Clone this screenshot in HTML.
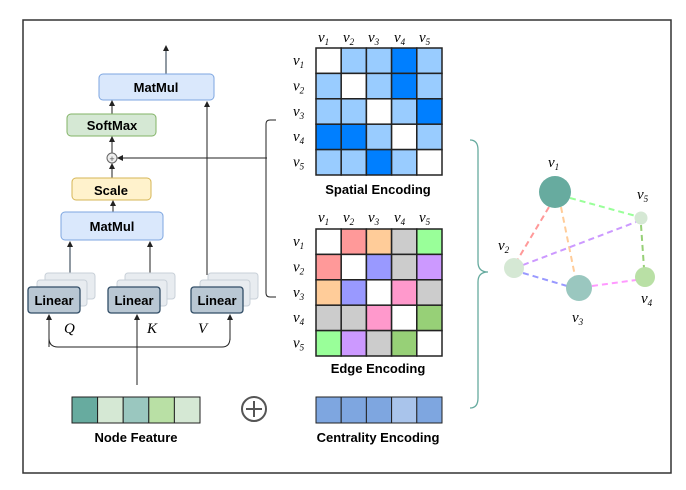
<!DOCTYPE html>
<html><head><meta charset="utf-8"><style>
body{margin:0;background:#fff}
svg text{font-family:"Liberation Sans",sans-serif}
.b{font-weight:bold;font-size:13px;text-anchor:middle}
.m{font-family:"Liberation Serif",serif!important;font-style:italic;font-size:15px}
</style></head><body>
<svg width="686" height="485" viewBox="0 0 686 485" xmlns="http://www.w3.org/2000/svg">
<defs><marker id="a" markerWidth="6" markerHeight="6" refX="5" refY="3" orient="auto"><path d="M0,0L6,3L0,6z" fill="#222"/></marker></defs>
<rect x="23" y="20" width="648" height="453" fill="none" stroke="#333" stroke-width="1.5"/>
<!-- left -->
<line x1="166" y1="74" x2="166" y2="46" stroke="#234" marker-end="url(#a)"/>
<rect x="99" y="74" width="115" height="26" rx="4" fill="#dae8fc" stroke="#7ea6e0"/><text class="b" x="156" y="92">MatMul</text>
<line x1="112" y1="114" x2="112" y2="101" stroke="#222" marker-end="url(#a)"/>
<rect x="67" y="114" width="89" height="22" rx="4" fill="#d5e8d4" stroke="#82b366"/><text class="b" x="112" y="130">SoftMax</text>
<line x1="112" y1="153" x2="112" y2="137" stroke="#222" marker-end="url(#a)"/>
<circle cx="112" cy="158" r="5" fill="#eee" stroke="#666"/><text x="112" y="162" font-size="9" text-anchor="middle" fill="#555">+</text>
<line x1="112" y1="178" x2="112" y2="164" stroke="#222" marker-end="url(#a)"/>
<rect x="72" y="178" width="79" height="22" rx="4" fill="#fff2cc" stroke="#d6b656"/><text class="b" x="111" y="195">Scale</text>
<line x1="113" y1="212" x2="113" y2="201" stroke="#222" marker-end="url(#a)"/>
<rect x="61" y="212" width="102" height="28" rx="4" fill="#dae8fc" stroke="#7ea6e0"/><text class="b" x="112" y="231">MatMul</text>
<line x1="70" y1="275" x2="70" y2="242" stroke="#234" marker-end="url(#a)"/>
<line x1="150" y1="275" x2="150" y2="242" stroke="#222" marker-end="url(#a)"/>
<line x1="207" y1="275" x2="207" y2="102" stroke="#222" marker-end="url(#a)"/>
<line x1="267" y1="158" x2="118" y2="158" stroke="#222" marker-end="url(#a)"/>
<path d="M276,120 H270 Q266,120 266,124 V293 Q266,297 270,297 H276" fill="none" stroke="#222"/>
<g fill="#e8ecf0" stroke="#c8d0d8">
<rect x="45" y="273" width="50" height="26" rx="3"/><rect x="37" y="280" width="50" height="26" rx="3"/>
<rect x="125" y="273" width="50" height="26" rx="3"/><rect x="117" y="280" width="50" height="26" rx="3"/>
<rect x="208" y="273" width="50" height="26" rx="3"/><rect x="200" y="280" width="50" height="26" rx="3"/>
</g>
<g fill="#b9c7d3" stroke="#314d66" stroke-width="1.3">
<rect x="28" y="287" width="52" height="26" rx="3"/><rect x="108" y="287" width="52" height="26" rx="3"/><rect x="191" y="287" width="52" height="26" rx="3"/>
</g>
<text class="b" x="54" y="305">Linear</text><text class="b" x="134" y="305">Linear</text><text class="b" x="217" y="305">Linear</text>
<text class="m" x="64" y="333">Q</text><text class="m" x="147" y="333">K</text><text class="m" x="198" y="333">V</text>
<path d="M49,347 Q49,347 49,318 M49,338 Q49,347 58,347 H222 Q230,347 230,338 V318" fill="none" stroke="#222"/>
<line x1="49" y1="340" x2="49" y2="315" stroke="#222" marker-end="url(#a)"/>
<line x1="230" y1="340" x2="230" y2="315" stroke="#222" marker-end="url(#a)"/>
<line x1="137" y1="385" x2="137" y2="315" stroke="#222" marker-end="url(#a)"/>
<!-- node feature -->
<g stroke="#222">
<rect x="72" y="397" width="25.6" height="26" fill="#67ab9f"/><rect x="97.6" y="397" width="25.6" height="26" fill="#d5e8d4"/><rect x="123.2" y="397" width="25.6" height="26" fill="#9ac7bf"/><rect x="148.8" y="397" width="25.6" height="26" fill="#b9e0a5"/><rect x="174.4" y="397" width="25.6" height="26" fill="#d5e8d4"/>
<rect x="316" y="397" width="25.2" height="26" fill="#7ea6e0"/><rect x="341.2" y="397" width="25.2" height="26" fill="#7ea6e0"/><rect x="366.4" y="397" width="25.2" height="26" fill="#7ea6e0"/><rect x="391.6" y="397" width="25.2" height="26" fill="#a9c4eb"/><rect x="416.8" y="397" width="25.2" height="26" fill="#7ea6e0"/>
</g>
<text class="b" x="136" y="442">Node Feature</text><text class="b" x="378" y="442">Centrality Encoding</text>
<circle cx="254" cy="409" r="12" fill="none" stroke="#555" stroke-width="2"/><path d="M246,409H262M254,401V417" stroke="#555" stroke-width="2"/>
<!-- matrices -->
<g id="mats" stroke="#222" stroke-width="1.5"></g>
<text class="b" x="378" y="194">Spatial Encoding</text><text class="b" x="378" y="373">Edge Encoding</text>
<g class="m" font-size="14">
<text x="318" y="42" class="m">v<tspan font-size="9" dy="3">1</tspan></text><text x="343" y="42" class="m">v<tspan font-size="9" dy="3">2</tspan></text><text x="368" y="42" class="m">v<tspan font-size="9" dy="3">3</tspan></text><text x="394" y="42" class="m">v<tspan font-size="9" dy="3">4</tspan></text><text x="419" y="42" class="m">v<tspan font-size="9" dy="3">5</tspan></text>
<text x="318" y="222" class="m">v<tspan font-size="9" dy="3">1</tspan></text><text x="343" y="222" class="m">v<tspan font-size="9" dy="3">2</tspan></text><text x="368" y="222" class="m">v<tspan font-size="9" dy="3">3</tspan></text><text x="394" y="222" class="m">v<tspan font-size="9" dy="3">4</tspan></text><text x="419" y="222" class="m">v<tspan font-size="9" dy="3">5</tspan></text>
</g>
<g id="rl"></g>
<!-- brace -->
<path d="M470,140 Q478,140 478,150 V262 Q478,272 488,272 Q478,272 478,282 V398 Q478,408 470,408" fill="none" stroke="#67ab9f" stroke-width="1.3"/>
<!-- graph -->
<g stroke-width="2" stroke-dasharray="6,4" fill="none">
<line x1="549" y1="207" x2="518" y2="259" stroke="#ff9999"/>
<line x1="561" y1="207" x2="575" y2="276" stroke="#ffcc99"/>
<line x1="570" y1="198" x2="636" y2="216" stroke="#99ff99"/>
<line x1="523" y1="265" x2="636" y2="222" stroke="#cc99ff"/>
<line x1="523" y1="273" x2="567" y2="286" stroke="#9999ff"/>
<line x1="592" y1="286" x2="636" y2="280" stroke="#ff99ff"/>
<line x1="641" y1="225" x2="644" y2="268" stroke="#97d077"/>
</g>
<circle cx="555" cy="192" r="16" fill="#67ab9f"/><circle cx="641" cy="218" r="6.5" fill="#d5e8d4"/><circle cx="514" cy="268" r="10" fill="#d5e8d4"/><circle cx="579" cy="288" r="13" fill="#9ac7bf"/><circle cx="645" cy="277" r="10" fill="#b9e0a5"/>
<text class="m" x="548" y="167">v<tspan font-size="9" dy="3">1</tspan></text>
<text class="m" x="637" y="199">v<tspan font-size="9" dy="3">5</tspan></text>
<text class="m" x="498" y="250">v<tspan font-size="9" dy="3">2</tspan></text>
<text class="m" x="572" y="322">v<tspan font-size="9" dy="3">3</tspan></text>
<text class="m" x="641" y="303">v<tspan font-size="9" dy="3">4</tspan></text>
</svg>
<script>
var ns="http://www.w3.org/2000/svg",g=document.getElementById("mats"),rl=document.getElementById("rl");
var L="#99ccff",D="#007fff",W="#fff";
var S=[[W,L,L,D,L],[L,W,L,D,L],[L,L,W,L,D],[D,D,L,W,L],[L,L,D,L,W]];
var r="#ff9999",o="#ffcc99",gy="#cccccc",gr="#99ff99",b="#9999ff",p="#cc99ff",pk="#ff99cc",gg="#97d077";
var E=[[W,r,o,gy,gr],[r,W,b,gy,p],[o,b,W,pk,gy],[gy,gy,pk,W,gg],[gr,p,gy,gg,W]];
function m(M,y0){for(var i=0;i<5;i++)for(var j=0;j<5;j++){var e=document.createElementNS(ns,"rect");e.setAttribute("x",316+j*25.2);e.setAttribute("y",y0+i*25.4);e.setAttribute("width",25.2);e.setAttribute("height",25.4);e.setAttribute("fill",M[i][j]);g.appendChild(e);}
for(var i=0;i<5;i++){var t=document.createElementNS(ns,"text");t.setAttribute("x",293);t.setAttribute("y",y0+i*25.4+17);t.setAttribute("class","m");t.innerHTML='v<tspan font-size="9" dy="3">'+(i+1)+'</tspan>';rl.appendChild(t);}}
m(S,48);m(E,229);
</script>
</body></html>
